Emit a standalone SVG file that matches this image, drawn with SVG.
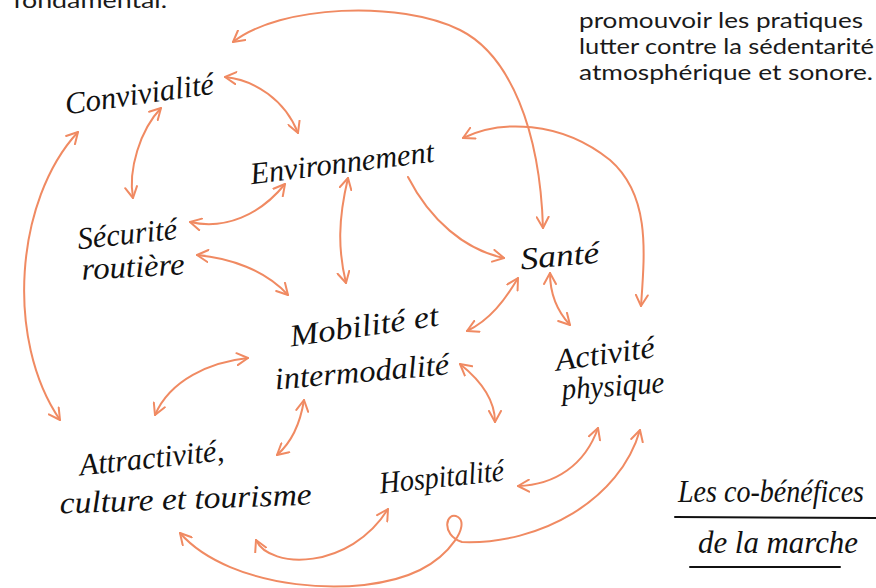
<svg xmlns="http://www.w3.org/2000/svg" width="876" height="588" viewBox="0 0 876 588">
<style>
.prose{font-family:Lato,"Open Sans",sans-serif;font-size:21.5px;fill:#1a1a1a}
.hand{font-family:"Liberation Serif",serif;font-style:italic;font-size:31px;fill:#111}
.c{fill:none;stroke:#F08A62;stroke-width:2;stroke-linecap:round}
.ul{stroke:#111;stroke-width:2;fill:none;stroke-linecap:round}
</style>
<defs>
<marker id="ah" viewBox="0 0 14 14" refX="12" refY="7" markerWidth="14" markerHeight="14" markerUnits="userSpaceOnUse" orient="auto-start-reverse">
<path d="M1,1 L12,7 L1,13" fill="none" stroke="#F08A62" stroke-width="2" stroke-linecap="round" stroke-linejoin="round"/>
</marker>
</defs>
<rect width="876" height="588" fill="#fff"/>
<g id="prose">
<text class="prose" x="13" y="8" font-size="22" textLength="154" lengthAdjust="spacingAndGlyphs">fondamental.</text>
<text class="prose" x="579" y="28" textLength="284" lengthAdjust="spacingAndGlyphs">promouvoir les pratiques</text>
<text class="prose" x="579" y="54" textLength="295" lengthAdjust="spacingAndGlyphs">lutter contre la sédentarité</text>
<text class="prose" x="579" y="80" textLength="294" lengthAdjust="spacingAndGlyphs">atmosphérique et sonore.</text>
</g>
<g id="connectors">
<path class="c" marker-start="url(#ah)" marker-end="url(#ah)" d="M233,42 C280,5 400,0 460,30 C510,55 540,130 543,228"/>
<path class="c" marker-start="url(#ah)" marker-end="url(#ah)" d="M225,77 C255,80 285,100 298,133"/>
<path class="c" marker-start="url(#ah)" marker-end="url(#ah)" d="M161,108 C140,130 128,170 133,198"/>
<path class="c" marker-start="url(#ah)" marker-end="url(#ah)" d="M78,132 C15,200 5,340 60,420"/>
<path class="c" marker-start="url(#ah)" marker-end="url(#ah)" d="M190,222 C225,230 260,215 285,184"/>
<path class="c" marker-start="url(#ah)" marker-end="url(#ah)" d="M197,255 C230,258 265,270 288,295"/>
<path class="c" marker-start="url(#ah)" marker-end="url(#ah)" d="M348,178 C338,220 338,250 346,283"/>
<path class="c" marker-end="url(#ah)" d="M408,177 C430,220 465,250 504,258"/>
<path class="c" marker-start="url(#ah)" marker-end="url(#ah)" d="M463,138 C500,120 560,120 610,160 C650,195 645,250 641,306"/>
<path class="c" marker-start="url(#ah)" marker-end="url(#ah)" d="M518,278 C505,300 490,320 467,331"/>
<path class="c" marker-start="url(#ah)" marker-end="url(#ah)" d="M550,273 C550,295 558,312 570,325"/>
<path class="c" marker-start="url(#ah)" marker-end="url(#ah)" d="M248,358 C210,362 170,380 155,415"/>
<path class="c" marker-start="url(#ah)" marker-end="url(#ah)" d="M304,400 C300,425 292,442 277,455"/>
<path class="c" marker-start="url(#ah)" marker-end="url(#ah)" d="M460,364 C480,380 495,400 495,422"/>
<path class="c" marker-start="url(#ah)" marker-end="url(#ah)" d="M518,486 C555,485 585,465 598,428"/>
<path class="c" marker-start="url(#ah)" marker-end="url(#ah)" d="M256,540 C270,570 350,570 388,509"/>
<path class="c" marker-start="url(#ah)" marker-end="url(#ah)" d="M180,533 C230,590 360,600 420,570 C450,555 470,525 458,517 C446,510 440,535 462,542 C540,545 620,500 640,430"/>
</g>
<g id="convivialite"><text class="hand" x="65" y="104" textLength="150" lengthAdjust="spacingAndGlyphs" transform="rotate(-8 140 98)">Convivialité</text></g>
<g id="environnement"><text class="hand" x="250" y="173" textLength="185" lengthAdjust="spacingAndGlyphs" transform="rotate(-7 342 167)">Environnement</text></g>
<g id="securite">
<text class="hand" x="78" y="244" textLength="100" lengthAdjust="spacingAndGlyphs" transform="rotate(-6 128 242)">Sécurité</text>
<text class="hand" x="82" y="277" textLength="103" lengthAdjust="spacingAndGlyphs" transform="rotate(-3 133 276)">routière</text>
</g>
<g id="sante"><text class="hand" x="521" y="266" textLength="79" lengthAdjust="spacingAndGlyphs" transform="rotate(-5 560 264)">Santé</text></g>
<g id="mobilite">
<text class="hand" x="290" y="336" textLength="150" lengthAdjust="spacingAndGlyphs" transform="rotate(-8 365 333)">Mobilité et</text>
<text class="hand" x="275" y="382" textLength="175" lengthAdjust="spacingAndGlyphs" transform="rotate(-5 362 380)">intermodalité</text>
</g>
<g id="activite">
<text class="hand" x="556" y="364" textLength="100" lengthAdjust="spacingAndGlyphs" transform="rotate(-8 605 362)">Activité</text>
<text class="hand" x="562" y="396" textLength="103" lengthAdjust="spacingAndGlyphs" transform="rotate(-4 613 395)">physique</text>
</g>
<g id="attractivite">
<text class="hand" x="80" y="468" textLength="145" lengthAdjust="spacingAndGlyphs" transform="rotate(-6 152 466)">Attractivité,</text>
<text class="hand" x="60" y="509" textLength="252" lengthAdjust="spacingAndGlyphs" transform="rotate(-2 186 508)">culture et tourisme</text>
</g>
<g id="hospitalite"><text class="hand" x="380" y="487" textLength="125" lengthAdjust="spacingAndGlyphs" transform="rotate(-6 442 485)">Hospitalité</text></g>
<g id="titre">
<text class="hand" x="678" y="502" textLength="186" lengthAdjust="spacingAndGlyphs">Les co-bénéfices</text>
<path class="ul" d="M675,517 L876,518"/>
<text class="hand" x="698" y="553" textLength="160" lengthAdjust="spacingAndGlyphs">de la marche</text>
<path class="ul" d="M690,567 L840,567"/>
</g>
</svg>
